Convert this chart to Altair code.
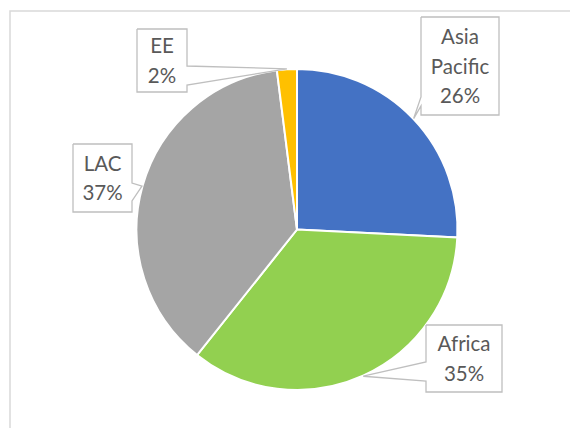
import math
import altair as alt
import pandas as pd

# ---- data ----
categories = ["Asia Pacific", "Africa", "LAC", "EE"]
values = [25.8, 34.9, 37.3, 2.0]
name_lines = [["Asia", "Pacific"], ["Africa"], ["LAC"], ["EE"]]
colors = ["#4472C4", "#92D050", "#A5A5A5", "#FFC000"]

# ---- layout (chart pixel coordinates) ----
W, H = 562, 420
CX, CY, R = 289, 221.5, 160.5
OFF = 8
# box: x0, y0, x1, y1 (page px), wedge side, wedge base start/end (page px)
boxes = {
    "Asia Pacific": (421, 17, 499, 115, "left", 97, 106),
    "Africa": (426, 325, 502, 392, "left", 362, 381),
    "LAC": (73, 144, 132, 212, "right", 183, 201),
    "EE": (137, 29, 187, 92, "right", 66, 85),
}
LINE_H = 29.5
FONT = "Lato"
FS = 20.5

total = sum(values)
pie_df = pd.DataFrame({"cat": categories, "value": values, "idx": list(range(len(values)))})

poly_rows, text_rows = [], []
cum = 0.0
for cat, v, lines in zip(categories, values, name_lines):
    mid = (cum + v / 2) / total
    cum += v
    ang = 2 * math.pi * mid
    tx = CX + (R + 0.5) * math.sin(ang)
    ty = CY - (R + 0.5) * math.cos(ang)
    x0, y0, x1, y1, side, wa, wb = boxes[cat]
    x0, y0, x1, y1, wa, wb = [c - OFF for c in (x0, y0, x1, y1, wa, wb)]
    if side == "left":
        pts = [(x0, y0), (x1, y0), (x1, y1), (x0, y1), (x0, wb), (tx, ty), (x0, wa), (x0, y0)]
    else:
        pts = [(x0, y0), (x1, y0), (x1, wa), (tx, ty), (x1, wb), (x1, y1), (x0, y1), (x0, y0)]
    for i, (px, py) in enumerate(pts):
        poly_rows.append({"label": cat, "i": i, "x": px, "y": py})
    all_lines = lines + [f"{round(v / total * 100)}%"]
    n = len(all_lines)
    ccx = (x0 + x1) / 2
    ccy = (y0 + y1) / 2
    for j, t in enumerate(all_lines):
        text_rows.append({"t": t, "x": ccx, "y": ccy + 7.5 + (j - (n - 1) / 2) * LINE_H})

poly_df = pd.DataFrame(poly_rows)
text_df = pd.DataFrame(text_rows)
border_df = pd.DataFrame({"i": [0, 1, 2], "x": [2, 2, 700], "y": [700, 3, 3]})

xs = alt.Scale(domain=[0, W], range=[0, W])
ys = alt.Scale(domain=[0, H], range=[0, H])

border = alt.Chart(border_df).mark_line(color="#D9D9D9", strokeWidth=1.5, clip=True).encode(
    x=alt.X("x:Q", scale=xs, axis=None),
    y=alt.Y("y:Q", scale=ys, axis=None),
    order="i:Q",
)

pie = alt.Chart(pie_df).mark_arc(outerRadius=R, stroke="white", strokeWidth=2).encode(
    theta=alt.Theta("value:Q", stack=True),
    color=alt.Color("cat:N", scale=alt.Scale(domain=categories, range=colors), legend=None),
    order=alt.Order("idx:Q"),
    x=alt.value(CX),
    y=alt.value(CY),
)

callouts = alt.Chart(poly_df).mark_line(color="#BFBFBF", strokeWidth=1.3, strokeJoin="miter").encode(
    x=alt.X("x:Q", scale=xs, axis=None),
    y=alt.Y("y:Q", scale=ys, axis=None),
    detail="label:N",
    order="i:Q",
)

labels = alt.Chart(text_df).mark_text(
    font=FONT, fontSize=FS, color="#595959", align="center", baseline="alphabetic"
).encode(
    x=alt.X("x:Q", scale=xs, axis=None),
    y=alt.Y("y:Q", scale=ys, axis=None),
    text="t:N",
)

chart = alt.layer(border, pie, callouts, labels).properties(
    width=W, height=H, padding=0, autosize="none", background="white"
).configure_view(stroke=None)

chart.save("out.html", embed_options={"renderer": "svg", "actions": False})
